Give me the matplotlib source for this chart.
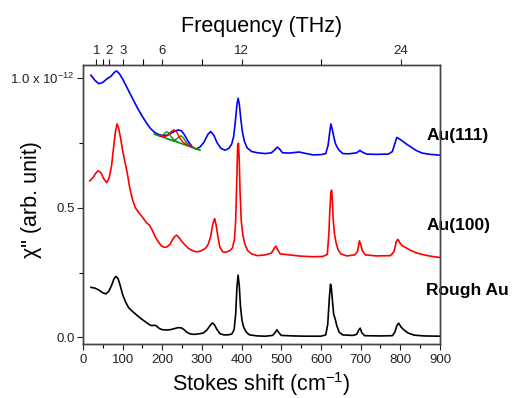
import matplotlib
matplotlib.use("Agg")
import matplotlib.pyplot as plt

plt.rcParams['font.family'] = ['Liberation Sans', 'DejaVu Sans']
plt.rcParams['mathtext.fontset'] = 'custom'
plt.rcParams['mathtext.rm'] = 'Liberation Sans'
plt.rcParams['mathtext.it'] = 'Liberation Sans:italic'

# ---- data (Stokes shift cm^-1, chi'' in units of 1e-12) ----
au111_x = [20, 30, 40, 50, 60, 70, 80, 85, 92, 100, 110, 120, 130, 140, 150, 160, 170, 180,
           190, 200, 210, 220, 230, 240, 248, 256, 265, 275, 285, 295, 305, 315, 322, 330,
           338, 348, 358, 368, 375, 380, 384, 388, 391, 394, 398, 402, 407, 414, 425, 440,
           460, 475, 483, 490, 496, 503, 520, 545, 560, 580, 600, 612, 618, 622, 625, 628,
           632, 636, 640, 645, 655, 670, 690, 698, 704, 715, 740, 770, 780, 786, 791, 797,
           805, 815, 825, 840, 855, 875, 900]
au111_y = [1.010, 0.990, 0.977, 0.982, 0.995, 1.005, 1.022, 1.026, 1.015, 0.995, 0.965,
           0.935, 0.905, 0.876, 0.850, 0.826, 0.805, 0.790, 0.782, 0.777, 0.778, 0.785,
           0.793, 0.799, 0.796, 0.780, 0.755, 0.735, 0.725, 0.733, 0.752, 0.782, 0.793,
           0.778, 0.750, 0.728, 0.721, 0.728, 0.745, 0.775, 0.830, 0.895, 0.921, 0.900,
           0.840, 0.790, 0.755, 0.730, 0.716, 0.711, 0.708, 0.711, 0.722, 0.733, 0.725,
           0.711, 0.710, 0.714, 0.709, 0.703, 0.704, 0.708, 0.740, 0.790, 0.822, 0.805,
           0.775, 0.748, 0.735, 0.722, 0.708, 0.707, 0.711, 0.720, 0.714, 0.706, 0.705,
           0.706, 0.716, 0.745, 0.770, 0.765, 0.757, 0.745, 0.735, 0.720, 0.710, 0.705, 0.702]

au100_x = [17, 25, 32, 38, 45, 52, 60, 66, 72, 77, 82, 86, 90, 95, 100, 106, 112, 118, 125,
           132, 140, 150, 160, 168, 175, 182, 190, 198, 206, 212, 220, 227, 231, 236, 242,
           250, 258, 266, 275, 285, 295, 303, 310, 316, 322, 327, 332, 336, 340, 345, 352,
           360, 370, 377, 382, 385, 388, 390, 392, 394, 396, 399, 403, 408, 415, 425, 440,
           460, 475, 481, 486, 491, 497, 520, 550, 580, 605, 616, 620, 622, 625, 627, 629,
           631, 634, 638, 643, 650, 665, 685, 692, 697, 700, 704, 712, 740, 775, 784, 790,
           794, 800, 806, 815, 825, 840, 860, 880, 900]
au100_y = [0.603, 0.615, 0.632, 0.642, 0.635, 0.612, 0.596, 0.615, 0.660, 0.730, 0.795,
           0.822, 0.805, 0.765, 0.720, 0.675, 0.630, 0.575, 0.530, 0.500, 0.482, 0.463,
           0.442, 0.432, 0.412, 0.388, 0.368, 0.352, 0.347, 0.349, 0.360, 0.380, 0.388,
           0.394, 0.385, 0.368, 0.355, 0.343, 0.335, 0.330, 0.332, 0.338, 0.345, 0.360,
           0.390, 0.435, 0.458, 0.430, 0.390, 0.348, 0.330, 0.328, 0.334, 0.345, 0.380,
           0.450, 0.620, 0.740, 0.748, 0.680, 0.560, 0.450, 0.395, 0.360, 0.335, 0.322,
           0.315, 0.318, 0.325, 0.340, 0.352, 0.338, 0.322, 0.318, 0.313, 0.311, 0.312,
           0.320, 0.400, 0.480, 0.560, 0.567, 0.520, 0.450, 0.400, 0.365, 0.338, 0.322,
           0.314, 0.318, 0.330, 0.372, 0.360, 0.335, 0.318, 0.314, 0.315, 0.330, 0.370,
           0.378, 0.362, 0.352, 0.345, 0.336, 0.326, 0.318, 0.312, 0.308]

rough_x = [20, 30, 40, 50, 58, 65, 72, 78, 83, 88, 93, 100, 108, 115, 125, 135, 145, 155,
           165, 172, 180, 185, 192, 200, 210, 220, 230, 240, 248, 255, 262, 270, 280, 292,
           303, 312, 320, 326, 331, 337, 345, 355, 365, 375, 381, 385, 388, 391, 394, 397,
           401, 405, 412, 420, 440, 460, 478, 484, 489, 494, 500, 530, 560, 600, 612, 617,
           621, 624, 626, 629, 632, 636, 640, 646, 655, 680, 690, 695, 699, 703, 710, 750,
           780, 786, 792, 796, 802, 810, 820, 835, 860, 900]
rough_y = [0.193, 0.190, 0.183, 0.172, 0.168, 0.178, 0.200, 0.225, 0.235, 0.228, 0.205,
           0.165, 0.135, 0.115, 0.100, 0.087, 0.074, 0.063, 0.052, 0.046, 0.047, 0.045,
           0.035, 0.030, 0.029, 0.030, 0.034, 0.038, 0.037, 0.030, 0.020, 0.014, 0.012,
           0.014, 0.017, 0.028, 0.045, 0.056, 0.050, 0.033, 0.015, 0.010, 0.010, 0.013,
           0.030, 0.090, 0.190, 0.240, 0.200, 0.120, 0.065, 0.040, 0.020, 0.010, 0.006,
           0.005, 0.008, 0.018, 0.030, 0.018, 0.008, 0.006, 0.005, 0.005, 0.010, 0.050,
           0.150, 0.205, 0.195, 0.140, 0.090, 0.070, 0.045, 0.020, 0.010, 0.008, 0.012,
           0.028, 0.036, 0.018, 0.007, 0.006, 0.007, 0.020, 0.048, 0.055, 0.040, 0.028,
           0.017, 0.009, 0.006, 0.005]

# fit components on Au(111)
base_x = [180, 200, 220, 240, 260, 280, 295]
base_y = [0.783, 0.772, 0.761, 0.751, 0.740, 0.729, 0.721]
g1_x = [185, 195, 203, 208, 212, 216, 222, 230, 240]
g1_y = [0.780, 0.776, 0.781, 0.789, 0.792, 0.788, 0.773, 0.760, 0.752]
r1_x = [195, 205, 215, 222, 229, 236, 243, 252, 262, 275]
r1_y = [0.775, 0.772, 0.779, 0.792, 0.800, 0.792, 0.770, 0.752, 0.742, 0.733]
g2_x = [215, 228, 236, 242, 247, 253, 260, 270, 280]
g2_y = [0.763, 0.758, 0.764, 0.773, 0.776, 0.769, 0.752, 0.737, 0.730]

labels = ["Au(111)", "Au(100)", "Rough Au"]
label_y = [0.778, 0.431, 0.182]

thz_major = [1, 2, 3, 6, 12, 24]
thz_minor = [1.5, 4.5, 9, 18]
CM_PER_THZ = 33.356

yticks = [0.0, 0.5, 1.0]
ytick_labels = ["0.0", "0.5", "1.0 x 10$^{\\mathregular{-12}}$"]
xticks = list(range(0, 901, 100))

# ---- figure ----
fig = plt.figure(figsize=(5.17, 3.98), dpi=100)
ax = fig.add_axes([0.1605, 0.1357, 0.6905, 0.701])

ax.plot(au111_x, au111_y, color='#0000ff', lw=1.2)
ax.plot(au100_x, au100_y, color='#ff0000', lw=1.2)
ax.plot(rough_x, rough_y, color='#000000', lw=1.2)
ax.plot(base_x, base_y, color='#109010', lw=1.2)
ax.plot(g1_x, g1_y, color='#109010', lw=1.0)
ax.plot(g2_x, g2_y, color='#109010', lw=1.0)
ax.plot(r1_x, r1_y, color='#ff0000', lw=1.0)

ax.set_xlim(0, 900)
ax.set_ylim(-0.025, 1.049)

ax.set_xticks(xticks)
ax.set_xticks(list(range(50, 900, 100)), minor=True)
ax.set_yticks(yticks)
ax.set_yticklabels(ytick_labels)
ax.set_yticks([0.25, 0.75], minor=True)
ax.tick_params(axis='both', which='major', direction='out', length=4, width=0.8,
               labelsize=9.5, colors='#222222')
ax.tick_params(axis='both', which='minor', direction='out', length=3, width=0.8)
ax.tick_params(axis='y', pad=2)

for s in ax.spines.values():
    s.set_color('#444444')
    s.set_linewidth(1.0)

ax.set_xlabel("Stokes shift (cm$^{\\mathregular{-1}}$)", fontsize=15.5, labelpad=3)
ax.set_ylabel('χ" (arb. unit)', fontsize=15.5)
ax.yaxis.set_label_coords(-0.115, 0.516)

ax2 = ax.twiny()
ax2.set_xlim(ax.get_xlim())
ax2.set_xticks([t * CM_PER_THZ for t in thz_major])
ax2.set_xticklabels([str(t) for t in thz_major])
ax2.set_xticks([t * CM_PER_THZ for t in thz_minor], minor=True)
ax2.tick_params(axis='x', which='major', direction='out', length=4, width=0.8,
                labelsize=9.5, colors='#222222', pad=2)
ax2.tick_params(axis='x', which='minor', direction='out', length=4, width=0.8)
ax2.set_xlabel("Frequency (THz)", fontsize=15.5, labelpad=9)
for s in ax2.spines.values():
    s.set_color('#444444')
    s.set_linewidth(1.0)

for lab, yv in zip(labels, label_y):
    ax.text(865, yv, lab, fontsize=12.5, fontweight='bold', ha='left', va='center',
            clip_on=False)

fig.savefig("out.png", dpi=100)
